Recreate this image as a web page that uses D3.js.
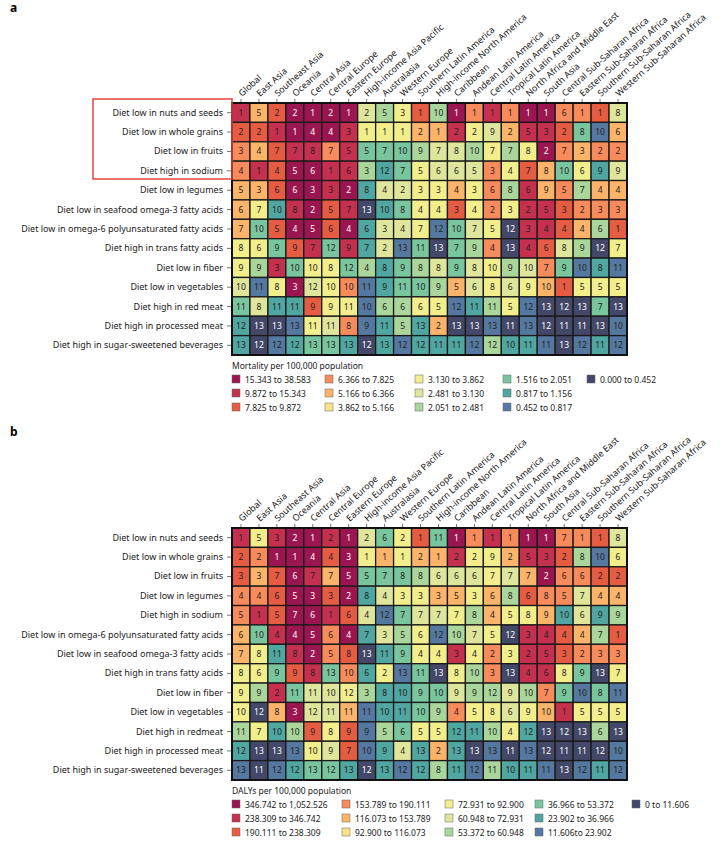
<!DOCTYPE html>
<html>
<head>
<meta charset="utf-8">
<script src="https://cdn.jsdelivr.net/npm/d3@7"></script>
<style>
  body { margin: 0; background: #fff; }
  text { font-family: "Noto Sans", Lato, sans-serif; }
</style>
</head>
<body>
<div id="chart"></div>
<script>
var regions = ["Global", "East Asia", "Southeast Asia", "Oceania", "Central Asia", "Central Europe",
  "Eastern Europe", "High-income Asia Pacific", "Australasia", "Western Europe", "Southern Latin America",
  "High-income North America", "Caribbean", "Andean Latin America", "Central Latin America",
  "Tropical Latin America", "North Africa and Middle East", "South Asia", "Central Sub-Saharan Africa",
  "Eastern Sub-Saharan Africa", "Southern Sub-Saharan Africa", "Western Sub-Saharan Africa"];

var risksA = ["Diet low in nuts and seeds", "Diet low in whole grains", "Diet low in fruits", "Diet high in sodium",
  "Diet low in legumes", "Diet low in seafood omega-3 fatty acids", "Diet low in omega-6 polyunsaturated fatty acids",
  "Diet high in trans fatty acids", "Diet low in fiber", "Diet low in vegetables", "Diet high in red meat",
  "Diet high in processed meat", "Diet high in sugar-sweetened beverages"];

var risksB = ["Diet low in nuts and seeds", "Diet low in whole grains", "Diet low in fruits", "Diet low in legumes",
  "Diet high in sodium", "Diet low in omega-6 polyunsaturated fatty acids", "Diet low in seafood omega-3 fatty acids",
  "Diet high in trans fatty acids", "Diet low in fiber", "Diet low in vegetables", "Diet high in redmeat",
  "Diet high in processed meat", "Diet high in sugar-sweetened beverages"];

// rank of each risk within each region (mortality)
var rankA = [
  [1,5,2,2,1,2,1,2,5,3,1,10,1,1,1,1,1,1,6,1,1,8],
  [2,2,1,1,4,4,3,1,1,1,2,1,2,2,9,2,5,3,2,8,10,6],
  [3,4,7,7,8,7,5,5,7,10,9,7,8,10,7,7,8,2,7,3,2,2],
  [4,1,4,5,6,1,6,3,12,7,5,6,6,5,3,4,7,8,10,6,9,9],
  [5,3,6,6,3,3,2,8,4,2,3,3,4,3,6,8,6,9,5,7,4,4],
  [6,7,10,8,2,5,7,13,10,8,4,4,3,4,2,3,2,5,3,2,3,3],
  [7,10,5,4,5,6,4,6,3,4,7,12,10,7,5,12,3,4,4,4,6,1],
  [8,6,9,9,7,12,9,7,2,13,11,13,7,9,4,13,4,6,8,9,12,7],
  [9,9,3,10,10,8,12,4,8,9,8,8,9,8,10,9,10,7,9,10,8,11],
  [10,11,8,3,12,10,10,11,9,11,10,9,5,6,8,6,9,10,1,5,5,5],
  [11,8,11,11,9,9,11,10,6,6,6,5,12,11,11,5,12,13,12,13,7,13],
  [12,13,13,13,11,11,8,9,11,5,13,2,13,13,13,11,13,12,11,11,13,10],
  [13,12,12,12,13,13,13,12,13,12,12,11,11,12,12,10,11,11,13,12,11,12]
];
// legend bin of each cell (0 = highest rate)
var binA = [
  [1,4,2,0,0,0,0,7,8,6,2,8,0,3,1,3,0,0,3,3,2,7],
  [2,2,1,0,0,0,1,6,6,6,4,4,1,6,7,4,1,1,2,9,11,4],
  [3,4,2,1,1,3,1,9,9,9,8,7,7,8,6,8,6,0,3,4,3,3],
  [3,1,2,0,0,1,1,8,10,9,6,7,7,7,3,6,2,4,9,6,10,7],
  [4,4,2,0,0,1,0,10,7,7,6,6,4,6,3,8,1,4,3,8,4,4],
  [4,6,10,1,0,2,1,12,10,9,6,6,2,6,3,6,1,1,2,3,3,3],
  [4,9,2,0,0,2,0,10,7,7,6,11,9,7,6,12,1,1,2,4,8,2],
  [6,6,9,2,1,9,1,10,7,11,9,12,9,8,3,12,1,2,7,8,12,6],
  [6,8,1,9,6,6,9,8,10,9,8,7,9,7,6,8,7,3,9,11,10,11],
  [7,11,6,0,7,6,3,11,10,9,9,8,4,7,6,7,6,4,2,6,6,6],
  [9,7,10,10,2,6,6,11,8,8,6,6,11,10,8,6,11,12,12,12,9,12],
  [10,12,12,11,6,7,3,11,10,8,10,4,12,12,11,12,11,12,12,12,12,11],
  [10,12,11,10,9,9,10,12,10,11,10,10,10,11,8,10,10,11,12,11,10,11]
];

// rank of each risk within each region (DALYs)
var rankB = [
  [1,5,3,2,1,2,1,2,6,2,1,11,1,1,1,1,1,1,7,1,1,8],
  [2,2,1,1,4,4,3,1,1,1,2,1,2,2,9,2,5,3,2,8,10,6],
  [3,3,7,6,7,7,5,5,7,8,8,6,6,6,7,7,7,2,6,6,2,2],
  [4,4,6,5,3,3,2,8,4,3,3,3,5,3,6,8,6,8,5,7,4,4],
  [5,1,5,7,6,1,6,4,12,7,7,7,7,8,4,5,8,9,10,6,9,9],
  [6,10,4,4,5,6,4,7,3,5,6,12,10,7,5,12,3,4,4,4,7,1],
  [7,8,11,8,2,5,8,13,11,9,4,4,3,4,2,3,2,5,3,2,3,3],
  [8,6,9,9,8,13,10,6,2,13,11,13,8,10,3,13,4,6,8,9,13,7],
  [9,9,2,11,11,10,12,3,8,10,9,10,9,9,12,9,10,7,9,10,8,11],
  [10,12,8,3,12,11,11,11,10,11,10,9,4,5,8,6,9,10,1,5,5,5],
  [11,7,10,10,9,8,9,9,5,6,5,5,12,11,10,4,12,13,12,13,6,13],
  [12,13,13,13,10,9,7,10,9,4,13,2,13,13,13,11,13,12,11,11,12,10],
  [13,11,12,12,13,12,13,12,13,12,12,8,11,12,11,10,11,11,13,12,11,12]
];
var binB = [
  [1,6,1,0,0,1,0,7,9,6,2,9,0,3,1,3,0,0,3,3,2,7],
  [2,3,0,0,0,2,0,6,4,6,4,4,1,6,6,4,1,1,2,8,11,6],
  [2,4,2,0,1,4,0,9,9,9,8,7,7,7,6,7,4,0,3,3,2,2],
  [3,3,2,0,0,2,0,10,7,6,6,4,4,6,4,8,2,3,3,7,4,4],
  [3,1,2,0,0,1,2,7,11,9,7,7,6,8,4,6,6,4,10,7,10,8],
  [4,9,1,0,0,3,0,10,7,8,6,11,8,7,6,12,1,1,2,4,8,2],
  [4,6,10,1,0,3,2,12,10,9,6,6,1,6,3,6,1,1,2,3,3,3],
  [6,6,9,2,1,9,3,10,6,11,9,12,6,8,3,12,1,1,6,9,12,6],
  [6,8,1,9,7,7,6,8,10,10,9,9,7,8,8,7,8,3,9,11,9,11],
  [6,12,4,0,7,7,4,11,10,10,9,8,3,6,6,7,6,4,1,6,6,6],
  [8,6,10,8,2,6,2,11,8,9,6,6,10,10,8,6,10,12,12,12,8,12],
  [10,12,12,11,6,7,2,11,10,7,10,4,10,12,11,12,11,12,12,12,12,11],
  [11,12,11,10,9,9,10,12,10,11,10,8,10,11,8,10,10,11,12,11,10,11]
];

var binColors = ["#9b1650", "#c6304f", "#e55c43", "#f88b5b", "#fcb46a", "#fde08a", "#f2ee8c",
  "#dfe69c", "#aad69b", "#79c59e", "#50a6a0", "#5578a0", "#434868"];

var legendA = ["15.343 to 38.583", "9.872 to 15.343", "7.825 to 9.872", "6.366 to 7.825", "5.166 to 6.366",
  "3.862 to 5.166", "3.130 to 3.862", "2.481 to 3.130", "2.051 to 2.481", "1.516 to 2.051",
  "0.817 to 1.156", "0.452 to 0.817", "0.000 to 0.452"];
var legendB = ["346.742 to 1,052.526", "238.309 to 346.742", "190.111 to 238.309", "153.789 to 190.111",
  "116.073 to 153.789", "92.900 to 116.073", "72.931 to 92.900", "60.948 to 72.931", "53.372 to 60.948",
  "36.966 to 53.372", "23.902 to 36.966", "11.606to 23.902", "0 to 11.606"];

var W = 724, H = 844;
var svg = d3.select("#chart").append("svg").attr("width", W).attr("height", H);

var x = d3.scaleBand().domain(d3.range(regions.length)).range([232, 627]);

function panel(letter, letterY, top, risks, ranks, bins, legendTitle, legendLabels, legendCols) {
  var y = d3.scaleBand().domain(d3.range(risks.length)).range([top, top + 252]);
  var g = svg.append("g");

  g.append("text").attr("x", 10).attr("y", letterY).text(letter)
    .style("font-weight", "bold").style("font-size", "12px");

  // column headers
  g.selectAll(".hdr").data(regions).enter().append("text")
    .attr("transform", function (d, i) {
      return "translate(" + (x(i) + x.bandwidth() / 2 + 1) + "," + (top - 6) + ") rotate(-42)";
    })
    .style("font-size", "9px").style("fill", "#222").text(function (d) { return d; });

  // tick marks above grid
  g.selectAll(".tk").data(regions).enter().append("line")
    .attr("x1", function (d, i) { return x(i) + x.bandwidth() / 2; })
    .attr("x2", function (d, i) { return x(i) + x.bandwidth() / 2; })
    .attr("y1", top - 4).attr("y2", top).style("stroke", "#555").style("stroke-width", 0.8);

  // row labels
  g.selectAll(".rl").data(risks).enter().append("text")
    .attr("x", 223).attr("y", function (d, i) { return y(i) + y.bandwidth() / 2 + 3; })
    .attr("text-anchor", "end").style("font-size", "9px").style("fill", "#222")
    .text(function (d) { return d; });
  g.selectAll(".rt").data(risks).enter().append("line")
    .attr("x1", 227).attr("x2", 232)
    .attr("y1", function (d, i) { return y(i) + y.bandwidth() / 2; })
    .attr("y2", function (d, i) { return y(i) + y.bandwidth() / 2; })
    .style("stroke", "#555").style("stroke-width", 0.8);

  var cells = [];
  ranks.forEach(function (row, r) {
    row.forEach(function (v, c) { cells.push({ r: r, c: c, rank: v, bin: bins[r][c] }); });
  });

  g.selectAll(".cell").data(cells).enter().append("rect")
    .attr("x", function (d) { return x(d.c); })
    .attr("y", function (d) { return y(d.r); })
    .attr("width", x.bandwidth()).attr("height", y.bandwidth())
    .style("fill", function (d) { return binColors[d.bin]; })
    .style("stroke", "#1a1a1a").style("stroke-width", 1.3);

  g.selectAll(".num").data(cells).enter().append("text")
    .attr("x", function (d) { return x(d.c) + x.bandwidth() / 2; })
    .attr("y", function (d) { return y(d.r) + y.bandwidth() / 2 + 3; })
    .attr("text-anchor", "middle").style("font-size", "8.5px")
    .style("fill", function (d) { return (d.bin === 0 || d.bin === 12) ? "#fff" : "#222"; })
    .text(function (d) { return d.rank; });

  g.append("rect").attr("x", 232).attr("y", top).attr("width", 395).attr("height", 252)
    .style("fill", "none").style("stroke", "#111").style("stroke-width", 2);

  // legend
  var ly = top + 252 + 14;
  g.append("text").attr("x", 232).attr("y", ly).style("font-size", "8.5px").style("fill", "#222")
    .text(legendTitle);
  var items = g.selectAll(".lg").data(legendLabels).enter().append("g")
    .attr("transform", function (d, i) {
      return "translate(" + legendCols[Math.floor(i / 3)] + "," + (ly + 6 + (i % 3) * 14) + ")";
    });
  items.append("rect").attr("width", 8).attr("height", 8)
    .style("fill", function (d, i) { return binColors[i]; })
    .style("stroke", "#666").style("stroke-width", 0.5);
  items.append("text").attr("x", 13).attr("y", 7.5).style("font-size", "8.5px").style("fill", "#222")
    .text(function (d) { return d; });
}

panel("a", 12, 103, risksA, rankA, binA, "Mortality per 100,000 population", legendA, [232, 325, 415, 503, 587]);
panel("b", 436, 528, risksB, rankB, binB, "DALYs per 100,000 population", legendB, [232, 342, 445, 535, 632]);

// highlight box around first four risks in panel a
svg.append("rect").attr("x", 93).attr("y", 99).attr("width", 139).attr("height", 80)
  .style("fill", "none").style("stroke", "#e8433c").style("stroke-width", 1.5);
</script>
</body>
</html>
